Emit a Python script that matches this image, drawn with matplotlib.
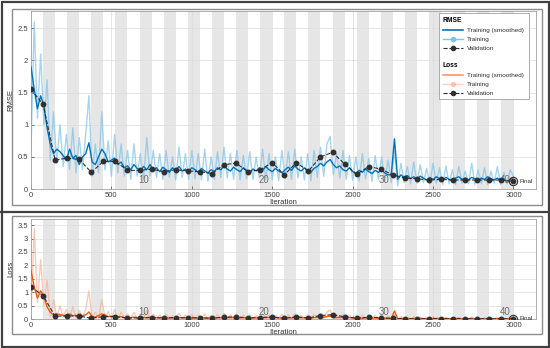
import numpy as np
import matplotlib
matplotlib.use("Agg")
import matplotlib.pyplot as plt
from matplotlib.lines import Line2D
from matplotlib.patches import Rectangle

plt.rcParams['font.family'] = ['Liberation Sans', 'DejaVu Sans']

# training curves, read every 20 iterations
iterations = np.arange(0, 3001, 20)
rmse_train = [
    0.60, 2.60, 1.10, 2.10, 1.00, 1.70, 0.45, 1.20, 0.40, 1.00,
    0.35, 0.85, 0.30, 0.95, 0.25, 0.80, 0.30, 0.85, 1.45, 0.20,
    0.70, 0.25, 1.20, 0.30, 0.75, 0.20, 0.85, 0.25, 0.70, 0.20,
    0.60, 0.15, 0.70, 0.20, 0.55, 0.15, 0.80, 0.20, 0.60, 0.18,
    0.55, 0.15, 0.60, 0.18, 0.50, 0.14, 0.65, 0.18, 0.55, 0.15,
    0.60, 0.16, 0.55, 0.14, 0.62, 0.12, 0.50, 0.15, 0.58, 0.18,
    0.65, 0.17, 0.55, 0.15, 0.60, 0.14, 0.52, 0.16, 0.58, 0.15,
    0.50, 0.17, 0.62, 0.14, 0.55, 0.15, 0.50, 0.13, 0.60, 0.16,
    0.58, 0.15, 0.62, 0.17, 0.50, 0.14, 0.55, 0.13, 0.60, 0.18,
    0.65, 0.20, 0.70, 0.82, 0.22, 0.55, 0.17, 0.60, 0.15, 0.52,
    0.14, 0.50, 0.13, 0.55, 0.16, 0.48, 0.12, 0.52, 0.15, 0.50,
    0.12, 0.45, 0.10, 0.60, 0.05, 0.40, 0.10, 0.35, 0.08, 0.42,
    0.09, 0.38, 0.10, 0.32, 0.08, 0.40, 0.09, 0.33, 0.07, 0.36,
    0.08, 0.30, 0.07, 0.35, 0.09, 0.28, 0.08, 0.40, 0.07, 0.30,
    0.08, 0.33, 0.07, 0.28, 0.09, 0.35, 0.07, 0.26, 0.08, 0.30,
    0.20]
rmse_smooth = [
    1.90, 1.55, 1.25, 1.45, 1.30, 0.95, 0.70, 0.55, 0.62, 0.58,
    0.52, 0.45, 0.62, 0.48, 0.52, 0.38, 0.50, 0.55, 0.72, 0.42,
    0.38, 0.50, 0.62, 0.55, 0.42, 0.45, 0.48, 0.38, 0.42, 0.33,
    0.36, 0.30, 0.38, 0.32, 0.28, 0.35, 0.30, 0.38, 0.30, 0.33,
    0.27, 0.34, 0.30, 0.26, 0.33, 0.29, 0.35, 0.28, 0.31, 0.27,
    0.33, 0.30, 0.26, 0.32, 0.28, 0.25, 0.30, 0.27, 0.33, 0.30,
    0.36, 0.31, 0.28, 0.34, 0.30, 0.27, 0.33, 0.29, 0.26, 0.31,
    0.28, 0.33, 0.29, 0.35, 0.30, 0.27, 0.32, 0.28, 0.25, 0.30,
    0.34, 0.29, 0.36, 0.31, 0.28, 0.33, 0.29, 0.26, 0.32, 0.35,
    0.40, 0.36, 0.42, 0.46, 0.38, 0.33, 0.36, 0.30, 0.28, 0.33,
    0.27, 0.24, 0.29, 0.26, 0.31, 0.27, 0.24, 0.29, 0.26, 0.30,
    0.25, 0.22, 0.22, 0.78, 0.15, 0.22, 0.18, 0.21, 0.16, 0.19,
    0.15, 0.20, 0.17, 0.14, 0.18, 0.15, 0.19, 0.16, 0.14, 0.18,
    0.15, 0.13, 0.17, 0.19, 0.15, 0.17, 0.14, 0.18, 0.16, 0.13,
    0.17, 0.15, 0.19, 0.16, 0.14, 0.17, 0.13, 0.16, 0.12, 0.15,
    0.18]
loss_train = [
    0.18, 3.38, 0.61, 2.21, 0.50, 1.45, 0.10, 0.72, 0.08, 0.50,
    0.06, 0.36, 0.05, 0.45, 0.03, 0.32, 0.05, 0.36, 1.05, 0.02,
    0.25, 0.03, 0.72, 0.05, 0.28, 0.02, 0.36, 0.03, 0.25, 0.02,
    0.18, 0.01, 0.25, 0.02, 0.15, 0.01, 0.32, 0.02, 0.18, 0.02,
    0.15, 0.01, 0.18, 0.02, 0.13, 0.01, 0.21, 0.02, 0.15, 0.01,
    0.18, 0.01, 0.15, 0.01, 0.19, 0.01, 0.13, 0.01, 0.17, 0.02,
    0.21, 0.01, 0.15, 0.01, 0.18, 0.01, 0.14, 0.01, 0.17, 0.01,
    0.13, 0.01, 0.19, 0.01, 0.15, 0.01, 0.13, 0.01, 0.18, 0.01,
    0.17, 0.01, 0.19, 0.01, 0.13, 0.01, 0.15, 0.01, 0.18, 0.02,
    0.21, 0.02, 0.25, 0.34, 0.02, 0.15, 0.01, 0.18, 0.01, 0.14,
    0.01, 0.13, 0.01, 0.15, 0.01, 0.12, 0.01, 0.14, 0.01, 0.13,
    0.01, 0.10, 0.01, 0.18, 0.00, 0.08, 0.01, 0.06, 0.00, 0.09,
    0.00, 0.07, 0.01, 0.05, 0.00, 0.08, 0.00, 0.05, 0.00, 0.06,
    0.00, 0.05, 0.00, 0.06, 0.00, 0.04, 0.00, 0.08, 0.00, 0.05,
    0.00, 0.05, 0.00, 0.04, 0.00, 0.06, 0.00, 0.03, 0.00, 0.05,
    0.02]
loss_smooth = [
    1.81, 1.20, 0.78, 1.05, 0.85, 0.45, 0.25, 0.15, 0.19, 0.17,
    0.14, 0.10, 0.19, 0.12, 0.14, 0.07, 0.13, 0.15, 0.26, 0.09,
    0.07, 0.13, 0.19, 0.15, 0.09, 0.10, 0.12, 0.07, 0.09, 0.05,
    0.06, 0.05, 0.07, 0.05, 0.04, 0.06, 0.05, 0.07, 0.05, 0.05,
    0.04, 0.06, 0.05, 0.03, 0.05, 0.04, 0.06, 0.04, 0.05, 0.04,
    0.05, 0.05, 0.03, 0.05, 0.04, 0.03, 0.05, 0.04, 0.05, 0.05,
    0.06, 0.05, 0.04, 0.06, 0.05, 0.04, 0.05, 0.04, 0.03, 0.05,
    0.04, 0.05, 0.04, 0.06, 0.05, 0.04, 0.05, 0.04, 0.03, 0.05,
    0.06, 0.04, 0.06, 0.05, 0.04, 0.05, 0.04, 0.03, 0.05, 0.06,
    0.08, 0.06, 0.09, 0.11, 0.07, 0.05, 0.06, 0.05, 0.04, 0.05,
    0.04, 0.03, 0.04, 0.03, 0.05, 0.04, 0.03, 0.04, 0.03, 0.05,
    0.03, 0.02, 0.02, 0.30, 0.01, 0.02, 0.02, 0.02, 0.01, 0.02,
    0.01, 0.02, 0.01, 0.01, 0.02, 0.01, 0.02, 0.01, 0.01, 0.02,
    0.01, 0.01, 0.01, 0.02, 0.01, 0.01, 0.01, 0.02, 0.01, 0.01,
    0.01, 0.01, 0.02, 0.01, 0.01, 0.01, 0.01, 0.01, 0.01, 0.01,
    0.02]

# validation once per epoch (75 iterations)
val_iterations = np.arange(0, 3001, 75)
rmse_val = [1.55, 1.32, 0.45, 0.48, 0.46, 0.26, 0.43, 0.43, 0.29, 0.29,
            0.31, 0.27, 0.30, 0.28, 0.27, 0.24, 0.38, 0.40, 0.27, 0.30,
            0.41, 0.22, 0.41, 0.28, 0.50, 0.57, 0.39, 0.23, 0.35, 0.31,
            0.22, 0.17, 0.16, 0.14, 0.15, 0.14, 0.14, 0.14, 0.14, 0.14,
            0.12]
loss_val = [1.20, 0.87, 0.10, 0.12, 0.11, 0.03, 0.09, 0.09, 0.04, 0.04,
            0.05, 0.04, 0.05, 0.04, 0.04, 0.03, 0.07, 0.08, 0.04, 0.05,
            0.08, 0.02, 0.08, 0.04, 0.13, 0.16, 0.08, 0.03, 0.06, 0.05,
            0.02, 0.01, 0.01, 0.01, 0.01, 0.01, 0.01, 0.01, 0.01, 0.01,
            0.01]

iters_per_epoch = 75
n_epochs = 40
epoch_marks = [10, 20, 30, 40]

W, H = 550, 348
fig = plt.figure(figsize=(W / 100, H / 100), dpi=100)


def px_rect(x0, y0, x1, y1):
    return [x0 / W, 1 - y1 / H, (x1 - x0) / W, (y1 - y0) / H]


def draw_panel(ax, raw, smooth, val, ymax, ystep, ylabel, dark, light):
    for ep in range(2, n_epochs + 1, 2):
        ax.axvspan((ep - 1) * iters_per_epoch, ep * iters_per_epoch,
                   color='#e6e6e6', lw=0, zorder=0)
    ax.grid(True, color='#dcdcdc', lw=0.5, zorder=0.5)
    ax.set_axisbelow(True)
    ax.plot(iterations, raw, color=light, lw=1.0, alpha=0.7, zorder=2)
    ax.plot(iterations, smooth, color=dark, lw=1.0, zorder=3)
    ax.plot(val_iterations, val, ls='--', color='#303030', lw=0.8,
            marker='o', ms=3.2, zorder=4)
    ax.plot(val_iterations[-1], val[-1], marker='o', ms=6, mfc='none',
            mec='#303030', mew=0.8, zorder=4)
    ax.text(val_iterations[-1] + 40, val[-1], 'Final', fontsize=4.5,
            color='#303030', va='center', ha='left')
    for ep in epoch_marks:
        ax.text(ep * iters_per_epoch - 52, 0.02, str(ep), fontsize=7,
                color='#707070', ha='center', va='bottom',
                transform=ax.get_xaxis_transform())
    ax.set_xlim(0, 3140)
    ax.set_ylim(0, ymax)
    ax.set_xticks(np.arange(0, 3001, 500))
    ax.set_yticks(np.arange(0, ymax, ystep))
    ax.set_yticklabels([f'{v:g}' for v in np.arange(0, ymax, ystep)])
    ax.tick_params(direction='in', length=2, width=0.5, labelsize=5.5,
                   colors='#404040', pad=2)
    for s in ax.spines.values():
        s.set_color('#a0a0a0')
        s.set_linewidth(0.6)
    ax.set_xlabel('Iteration', fontsize=5.5, color='#303030', labelpad=0.5)
    ax.set_ylabel(ylabel, fontsize=5.5, color='#303030', labelpad=2)


ax1 = fig.add_axes(px_rect(31, 11, 536, 189))
draw_panel(ax1, rmse_train, rmse_smooth, rmse_val, 2.77, 0.5, 'RMSE',
           '#0072bd', '#7fc3ea')
ax2 = fig.add_axes(px_rect(31, 219, 536, 319))
draw_panel(ax2, loss_train, loss_smooth, loss_val, 3.73, 0.5, 'Loss',
           '#f25516', '#f7b497')

# legend box
ax1.add_patch(Rectangle((0.808, 0.506), 0.178, 0.483, transform=ax1.transAxes,
                        fc='white', ec='#a0a0a0', lw=0.6, zorder=10))


def group_legend(title, dark, light, anchor, alpha):
    handles = [
        Line2D([], [], color=dark, lw=1.2, alpha=alpha),
        Line2D([], [], color=light, lw=1.0, marker='o', ms=3, alpha=alpha),
        Line2D([], [], color='#303030', lw=0.8, ls='--', marker='o', ms=3),
    ]
    leg = ax1.legend(handles, ['Training (smoothed)', 'Training', 'Validation'],
                     loc='upper left', bbox_to_anchor=anchor, frameon=False,
                     fontsize=4.6, title=title, alignment='left',
                     handlelength=3.2, handletextpad=0.6, labelspacing=0.55,
                     borderpad=0.3)
    leg.get_title().set_fontsize(4.8)
    leg.get_title().set_fontweight('bold')
    leg.set_zorder(11)
    for t in leg.get_texts():
        t.set_color('#303030')
    return leg


leg1 = group_legend('RMSE', '#0072bd', '#7fc3ea', (0.805, 0.995), 1.0)
ax1.add_artist(leg1)
group_legend('Loss', '#f25516', '#f7b497', (0.805, 0.74), 0.6)

# panel frames
frame_kw = dict(transform=fig.transFigure, fill=False)
fig.patches.append(Rectangle((12 / W, 1 - 205 / H), 530 / W, 196 / H,
                             ec='#8c8c8c', lw=1.0, **frame_kw))
fig.patches.append(Rectangle((12 / W, 1 - 334 / H), 530 / W, 118 / H,
                             ec='#8c8c8c', lw=1.0, **frame_kw))
fig.patches.append(Rectangle((1.5 / W, 1.5 / H), 547 / W, 345 / H,
                             ec='#404040', lw=1.6, **frame_kw))
fig.add_artist(Line2D([0, 1], [1 - 212 / H, 1 - 212 / H],
                      transform=fig.transFigure, color='#404040', lw=1.6))

fig.savefig('out.png', dpi=100)
